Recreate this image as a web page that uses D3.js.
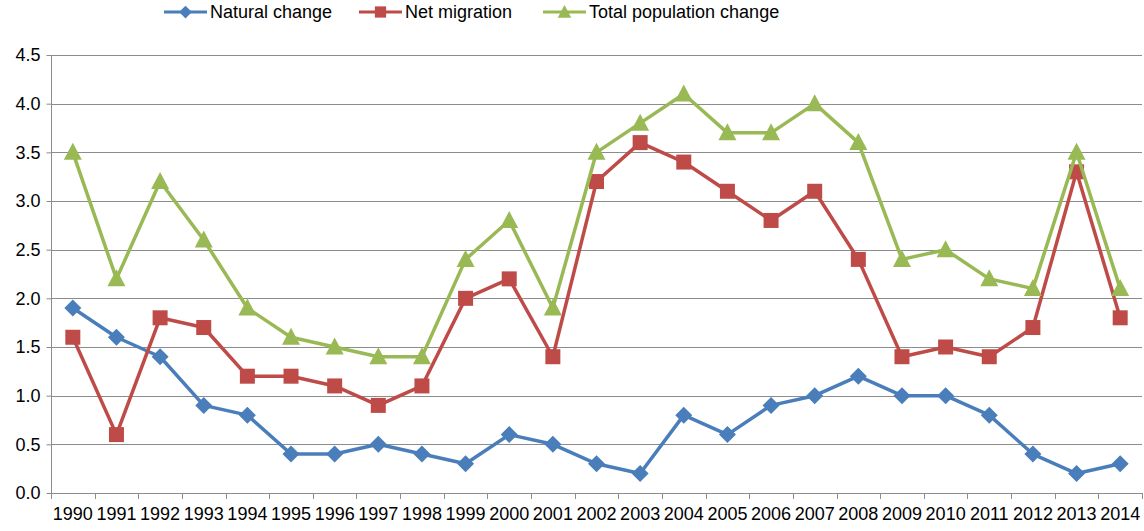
<!DOCTYPE html>
<html>
<head>
<meta charset="utf-8">
<script src="https://cdn.jsdelivr.net/npm/d3@7/dist/d3.min.js"></script>
<style>
  body { margin: 0; background: #fff; }
  text { font-family: "Liberation Sans", Arial, sans-serif; fill: #000; }
</style>
</head>
<body>
<svg width="1144" height="531"></svg>
<script>
var years = ["1990", "1991", "1992", "1993", "1994", "1995", "1996", "1997", "1998", "1999",
             "2000", "2001", "2002", "2003", "2004", "2005", "2006", "2007", "2008", "2009",
             "2010", "2011", "2012", "2013", "2014"];
var naturalChange = [1.9, 1.6, 1.4, 0.9, 0.8, 0.4, 0.4, 0.5, 0.4, 0.3, 0.6, 0.5, 0.3, 0.2, 0.8,
                     0.6, 0.9, 1.0, 1.2, 1.0, 1.0, 0.8, 0.4, 0.2, 0.3];
var netMigration = [1.6, 0.6, 1.8, 1.7, 1.2, 1.2, 1.1, 0.9, 1.1, 2.0, 2.2, 1.4, 3.2, 3.6, 3.4,
                    3.1, 2.8, 3.1, 2.4, 1.4, 1.5, 1.4, 1.7, 3.3, 1.8];
var totalChange = [3.5, 2.2, 3.2, 2.6, 1.9, 1.6, 1.5, 1.4, 1.4, 2.4, 2.8, 1.9, 3.5, 3.8, 4.1,
                   3.7, 3.7, 4.0, 3.6, 2.4, 2.5, 2.2, 2.1, 3.5, 2.1];
var yTicks = [0, 0.5, 1, 1.5, 2, 2.5, 3, 3.5, 4, 4.5];

var series = [
  { name: "Natural change", values: naturalChange, color: "#4A7EBB", marker: "diamond" },
  { name: "Net migration", values: netMigration, color: "#BE4B48", marker: "square" },
  { name: "Total population change", values: totalChange, color: "#98B954", marker: "triangle" }
];

var svg = d3.select("svg"),
    plotLeft = 51, plotRight = 1142, plotTop = 55, plotBottom = 493;

var x = d3.scaleBand().domain(years).range([plotLeft, plotRight]);
var y = d3.scaleLinear().domain([0, 4.5]).range([plotBottom, plotTop]);

function markerPath(type) {
  if (type == "diamond") return "M0,-8.5L8.5,0L0,8.5L-8.5,0Z";
  if (type == "square") return "M-7.5,-7.5H7.5V7.5H-7.5Z";
  return "M0,-9.5L9,7.5L-9,7.5Z";
}

// gridlines
svg.append("g")
  .selectAll("line")
  .data(yTicks.slice(1))
  .enter().append("line")
  .attr("x1", plotLeft).attr("x2", plotRight)
  .attr("y1", function(d) { return Math.round(y(d)) + 0.5; })
  .attr("y2", function(d) { return Math.round(y(d)) + 0.5; })
  .attr("stroke", "#8c8c8c").attr("stroke-width", 1);

// y axis
var yAxis = svg.append("g")
  .attr("transform", "translate(" + (plotLeft + 0.5) + ",0)")
  .call(d3.axisLeft(y).tickValues(yTicks).tickFormat(d3.format(".1f")).tickSize(5).tickPadding(6));
yAxis.select(".domain").attr("stroke", "#8c8c8c").attr("d", "M0," + plotTop + "V" + plotBottom);
yAxis.selectAll(".tick line").attr("stroke", "#8c8c8c");
yAxis.selectAll(".tick text").attr("font-size", 18).attr("fill", "#000")
  .attr("font-family", "Liberation Sans, Arial, sans-serif");

// x axis
var xAxis = svg.append("g")
  .attr("transform", "translate(0," + (plotBottom + 0.5) + ")")
  .call(d3.axisBottom(x).tickSize(0).tickPadding(14));
xAxis.select(".domain").attr("stroke", "#8c8c8c").attr("d", "M" + plotLeft + ",0H" + plotRight);
xAxis.selectAll(".tick text").attr("font-size", 18).attr("fill", "#000")
  .attr("font-family", "Liberation Sans, Arial, sans-serif");
svg.append("g")
  .selectAll("line")
  .data(years.concat(["end"]))
  .enter().append("line")
  .attr("x1", function(d, i) { return Math.round(plotLeft + i * x.step()) + 0.5; })
  .attr("x2", function(d, i) { return Math.round(plotLeft + i * x.step()) + 0.5; })
  .attr("y1", plotBottom).attr("y2", plotBottom + 6)
  .attr("stroke", "#8c8c8c");

// lines and markers
var line = d3.line()
  .x(function(d, i) { return x(years[i]) + x.bandwidth() / 2; })
  .y(function(d) { return y(d); });

series.forEach(function(s) {
  var g = svg.append("g");
  g.append("path")
    .attr("d", line(s.values))
    .attr("fill", "none")
    .attr("stroke", s.color)
    .attr("stroke-width", 3.5)
    .attr("stroke-linejoin", "round");
  g.selectAll("path.m")
    .data(s.values)
    .enter().append("path")
    .attr("class", "m")
    .attr("d", markerPath(s.marker))
    .attr("fill", s.color)
    .attr("transform", function(d, i) {
      return "translate(" + (x(years[i]) + x.bandwidth() / 2) + "," + y(d) + ")";
    });
});

// legend
var legendX = [164, 359, 543];
var legend = svg.append("g")
  .selectAll("g")
  .data(series)
  .enter().append("g")
  .attr("transform", function(d, i) { return "translate(" + legendX[i] + ",12)"; });
legend.append("line")
  .attr("x1", 0).attr("x2", 43)
  .attr("stroke", function(d) { return d.color; })
  .attr("stroke-width", 3);
legend.append("path")
  .attr("d", function(d) { return markerPath(d.marker); })
  .attr("transform", "translate(21.5,0) scale(0.75)")
  .attr("fill", function(d) { return d.color; });
legend.append("text")
  .attr("x", 46)
  .attr("dy", "0.35em")
  .attr("font-size", 18)
  .text(function(d) { return d.name; });
</script>
</body>
</html>
